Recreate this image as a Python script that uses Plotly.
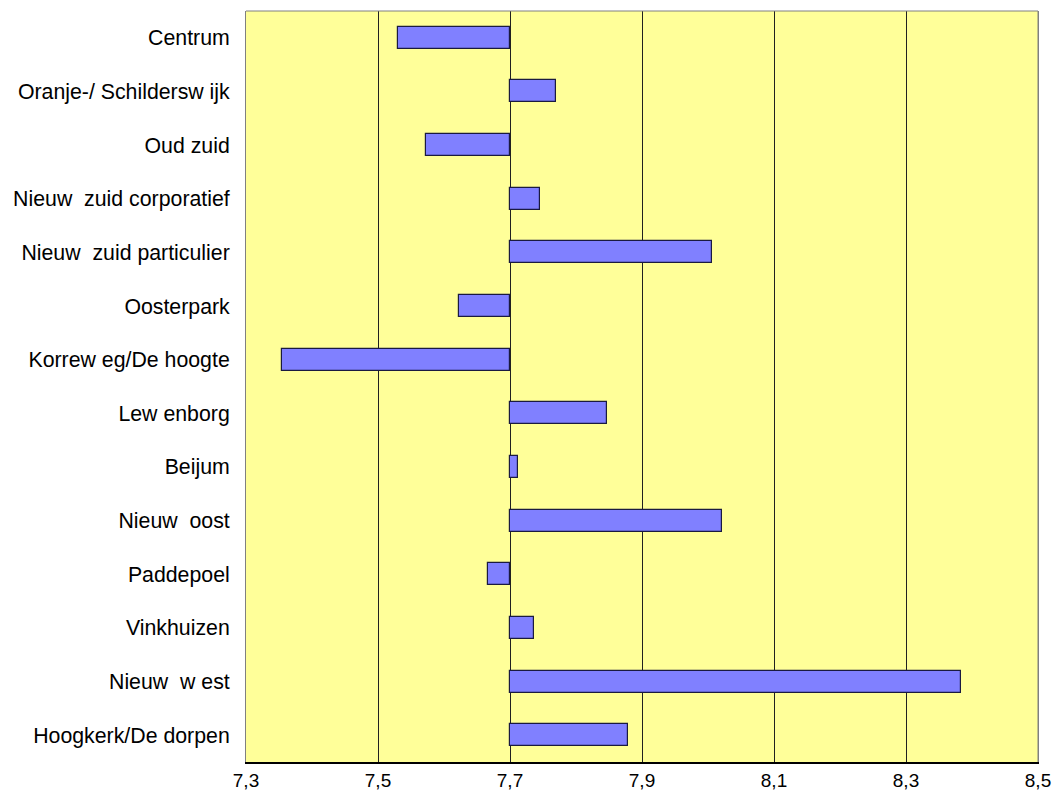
import plotly.graph_objects as go

categories = ["Centrum", "Oranje-/ Schildersw ijk", "Oud zuid", "Nieuw  zuid corporatief",
              "Nieuw  zuid particulier", "Oosterpark", "Korrew eg/De hoogte", "Lew enborg",
              "Beijum", "Nieuw  oost", "Paddepoel", "Vinkhuizen", "Nieuw  w est",
              "Hoogkerk/De dorpen"]
values = [7.531, 7.769, 7.573, 7.746, 8.006, 7.623, 7.355, 7.847, 7.712, 8.021,
          7.667, 7.737, 8.384, 7.879]
baseline = 7.7
tick_vals = [7.3, 7.5, 7.7, 7.9, 8.1, 8.3, 8.5]
tick_text = ["7,3", "7,5", "7,7", "7,9", "8,1", "8,3", "8,5"]

fig = go.Figure(go.Bar(
    y=categories,
    x=[v - baseline for v in values],
    base=baseline,
    orientation="h",
    width=0.41,
    marker=dict(color="#8080FF", line=dict(color="#1a1a40", width=1.2)),
))

fig.update_layout(
    width=1062, height=790,
    margin=dict(l=246, r=24, t=11, b=28),
    paper_bgcolor="white",
    plot_bgcolor="#FFFF99",
    font=dict(family="Liberation Sans, Arial, sans-serif", size=20, color="black"),
    showlegend=False,
    bargap=0,
    xaxis=dict(range=[7.3, 8.5], tickvals=tick_vals, ticktext=tick_text,
               showgrid=True, gridcolor="#202020", gridwidth=1, zeroline=False,
               showline=True, linecolor="black", linewidth=2, ticks="",
               tickfont=dict(size=19), fixedrange=True, automargin=False),
    yaxis=dict(autorange="reversed", showgrid=False, zeroline=False,
               ticks="", ticklabelstandoff=11, tickfont=dict(size=21.3),
               showline=True, linecolor="#808080", linewidth=1, mirror=True,
               automargin=False),
    shapes=[dict(type="line", xref="paper", yref="paper", x0=0, x1=1, y0=1, y1=1,
                 line=dict(color="#808080", width=1)),
            dict(type="line", xref="paper", yref="paper", x0=1, x1=1, y0=0, y1=1,
                 line=dict(color="#808080", width=1))],
)

fig.write_html("out.html", config={"displayModeBar": False},
               post_script="document.body.style.margin='0px';document.body.style.overflow='hidden';")
